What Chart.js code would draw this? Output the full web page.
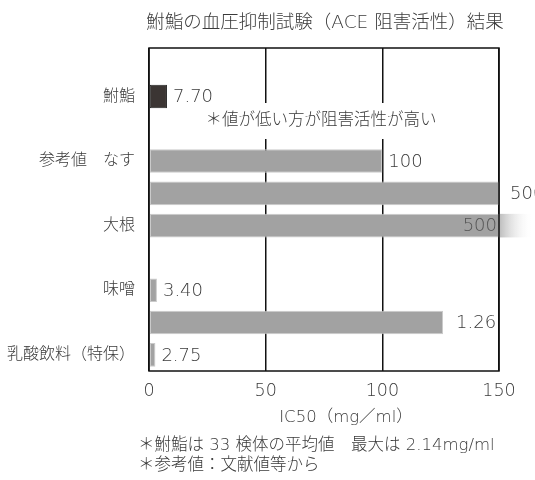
<!DOCTYPE html>
<html lang="ja">
<head>
  <meta charset="UTF-8">
  <title>鮒鮨の血圧抑制試験</title>
  <script src="https://cdn.jsdelivr.net/npm/chart.js"></script>
  <style>
    body { margin: 0; background: #fff; }
  </style>
</head>
<body>
  <canvas id="myChart" width="535" height="480"></canvas>
  <script>
    // 表示するデータ（上から順）
    const categories = ['', '鮒鮨', '', '参考値　なす', '', '大根', '', '味噌', '', '乳酸飲料（特保）'];
    const values = [null, 7.70, null, 100, 500, 500, null, 3.40, 126, 2.75];
    const valueLabels = ['', '7.70', '', '100', '500', '500', '', '3.40', '1.26', '2.75'];
    const xTicks = [0, 50, 100, 150];

    const chartTitle = '鮒鮨の血圧抑制試験（ACE 阻害活性）結果';
    const axisTitle = 'IC50（mg／ml）';
    const note = '＊値が低い方が阻害活性が高い';
    const footnotes = ['＊鮒鮨は 33 検体の平均値　最大は 2.14mg/ml', '＊参考値：文献値等から'];

    const FONT = '"DejaVu Sans", "Noto Sans CJK JP", sans-serif';
    const TEXT = '#3a3a3a';

    const decorPlugin = {
      id: 'decor',
      beforeDatasetsDraw(chart) {
        const { ctx, chartArea: a } = chart;
        // 注記（白地で目盛線を隠す）
        ctx.save();
        ctx.font = '300 16.5px ' + FONT;
        const w = ctx.measureText(note).width;
        const cx = a.left + 172;
        const cy = a.top + 73;
        ctx.fillStyle = '#fff';
        ctx.fillRect(cx - w / 2 - 6, cy - 18, w + 12, 36);
        ctx.fillStyle = TEXT;
        ctx.textAlign = 'center';
        ctx.textBaseline = 'middle';
        ctx.fillText(note, cx, cy);
        ctx.restore();
      },
      afterDatasetsDraw(chart) {
        const { ctx, chartArea: a } = chart;
        const meta = chart.getDatasetMeta(0);
        ctx.save();
        // 大根のはみ出し部分（グラデーション）
        const big = meta.data[5];
        const g = ctx.createLinearGradient(a.right, 0, a.right + 34, 0);
        g.addColorStop(0, 'rgba(180,180,180,0.9)');
        g.addColorStop(1, 'rgba(255,255,255,0)');
        ctx.fillStyle = g;
        ctx.fillRect(a.right, big.y - big.height / 2, 34, big.height);

        // 外枠
        ctx.strokeStyle = '#111';
        ctx.lineWidth = 1.5;
        ctx.strokeRect(a.left, a.top, a.right - a.left, a.bottom - a.top);

        // 値ラベル
        ctx.font = '300 18px ' + FONT;
        ctx.fillStyle = TEXT;
        ctx.textBaseline = 'middle';
        meta.data.forEach((bar, i) => {
          if (values[i] === null) return;
          const end = Math.min(bar.x, a.right);
          if (i === 5) {
            ctx.textAlign = 'right';
            ctx.fillStyle = '#555';
            ctx.fillText(valueLabels[i], end - 2, bar.y + 1);
            ctx.fillStyle = TEXT;
            return;
          }
          const gap = i === 4 ? 11 : (i === 8 ? 13 : 6);
          ctx.textAlign = 'left';
          ctx.fillText(valueLabels[i], end + gap, bar.y + 1);
        });
        ctx.restore();
      },
      afterDraw(chart) {
        const { ctx, chartArea: a } = chart;
        const mid = (a.left + a.right) / 2;
        ctx.save();
        ctx.fillStyle = TEXT;
        ctx.textBaseline = 'middle';
        ctx.textAlign = 'center';
        ctx.font = '300 18.5px ' + FONT;
        ctx.fillText(chartTitle, mid + 1, 23);
        ctx.font = '300 16.5px ' + FONT;
        ctx.fillText(axisTitle, mid + 22, a.bottom + 47);
        ctx.textAlign = 'left';
        ctx.fillText(footnotes[0], a.left - 11, a.bottom + 75);
        ctx.fillText(footnotes[1], a.left - 11, a.bottom + 95);
        ctx.restore();
      }
    };

    const ctx = document.getElementById('myChart').getContext('2d');
    new Chart(ctx, {
      type: 'bar',
      data: {
        labels: categories,
        datasets: [{
          data: values,
          backgroundColor: values.map((v, i) => i === 1 ? '#3b3533' : '#a2a2a2'),
          borderColor: values.map((v, i) => i === 1 ? '#222' : '#cacaca'),
          borderWidth: 1,
          borderSkipped: false,
          categoryPercentage: 1,
          barPercentage: 0.73
        }]
      },
      options: {
        indexAxis: 'y',
        responsive: false,
        animation: false,
        layout: { padding: { top: 48, right: 36, left: 0, bottom: 0 } },
        plugins: {
          legend: { display: false },
          tooltip: { enabled: false }
        },
        scales: {
          x: {
            min: xTicks[0],
            max: xTicks[xTicks.length - 1],
            afterBuildTicks: s => { s.ticks = xTicks.map(v => ({ value: v })); },
            afterFit: s => { s.height = 109; },
            grid: { color: '#111', lineWidth: 1.5, drawTicks: false },
            border: { display: false },
            ticks: { color: TEXT, padding: 10, font: { family: FONT, size: 17.5, weight: '300' } }
          },
          y: {
            afterFit: s => { s.width = 149; },
            grid: { display: false, drawTicks: false },
            border: { display: false },
            ticks: { color: TEXT, padding: 14, autoSkip: false, font: { family: FONT, size: 16, weight: '300' } }
          }
        }
      },
      plugins: [decorPlugin]
    });
  </script>
</body>
</html>
